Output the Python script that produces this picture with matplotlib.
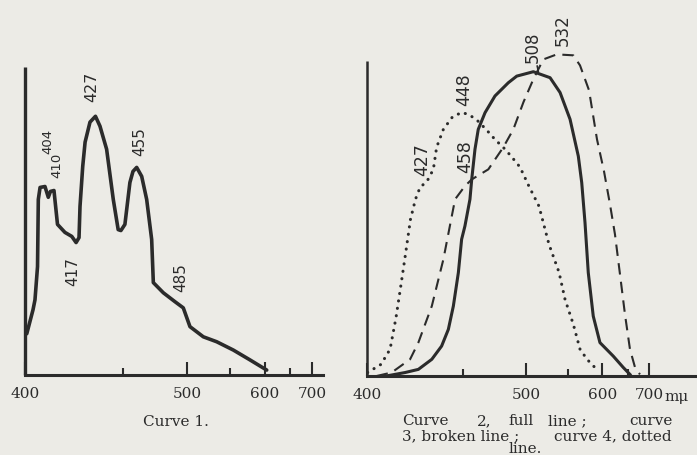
import numpy as np
import matplotlib
matplotlib.use("Agg")
import matplotlib.pyplot as plt
from matplotlib.ticker import FixedLocator, FixedFormatter

# ---------------- data (wavelength in mμ, relative absorption 0-100) ----------------
# prism-type (non-linear) wavelength scale of the original figure
scale_nm = [300, 400, 450, 500, 550, 600, 650, 700, 800, 900]
scale_pos = [-0.8, 0.0, 0.341, 0.564, 0.714, 0.835, 0.925, 1.0, 1.14, 1.26]

major_ticks = [400, 500, 600, 700]
minor_ticks = [450, 550, 650]
tick_labels = ["400", "500", "600", "700"]

# Curve 1
c1_nm = [400.9, 404.1, 405.1, 406.4, 406.8, 407.7, 410.2, 411.9, 413.0, 414.8, 416.6,
         420.4, 423.9, 426.1, 427.6, 428.1, 429.5, 430.7, 433.2, 436.0, 438.3, 441.7,
         445.1, 447.6, 449.0, 451.6, 455.5, 457.9, 460.8, 464.7, 468.6, 472.5, 473.8,
         481.6, 490.7, 497.2, 503.6, 519.1, 534.6, 554.9, 578.9, 604.0]
c1_val = [13.4, 21.2, 24.4, 35.2, 57.0, 60.9, 61.2, 57.7, 59.6, 59.9, 48.9,
          46.3, 45.0, 43.0, 44.6, 54.7, 67.8, 75.6, 82.1, 84.0, 80.8, 73.3,
          57.0, 47.2, 46.9, 48.9, 62.5, 66.1, 67.4, 64.5, 57.0, 44.0, 30.0,
          26.7, 23.8, 21.8, 15.7, 12.4, 10.8, 8.1, 4.9, 1.6]

# Curve 2 (full line)
c2_nm = [410.0, 419.8, 426.7, 433.7, 438.8, 442.3, 444.9, 447.5, 449.2, 451.4, 455.4,
         456.8, 459.4, 462.0, 467.4, 475.3, 485.9, 492.6, 508.6, 528.4, 540.2, 552.5,
         564.6, 569.6, 574.4, 579.2, 586.5, 596.3, 621.3, 641.0, 655.0]
c2_val = [0.0, 1.1, 2.1, 5.3, 9.5, 14.8, 22.2, 32.8, 43.4, 47.6, 56.1,
          62.4, 72.0, 78.3, 83.6, 88.9, 93.1, 95.2, 96.6, 94.7, 90.0, 81.5,
          69.8, 61.4, 48.7, 32.8, 19.0, 10.6, 6.3, 2.7, 0.5]

# Curve 3 (broken line)
c3_nm = [405.0, 412.8, 422.4, 426.7, 433.7, 439.7, 444.1, 445.8, 451.4, 456.8, 470.0,
         481.9, 489.9, 497.9, 508.6, 520.4, 536.3, 557.3, 567.1, 580.3, 592.0, 603.0,
         614.8, 624.6, 634.5, 644.3, 655.0, 666.8, 678.6]
c3_val = [0.0, 1.1, 5.3, 10.6, 22.2, 37.0, 50.8, 56.1, 60.3, 62.4, 65.6,
          72.6, 78.3, 86.9, 94.2, 100.5, 102.1, 101.8, 98.6, 90.7, 75.1, 65.0,
          54.5, 45.0, 32.3, 19.6, 8.5, 2.8, 0.5]

# Curve 4 (dotted line)
c4_nm = [400.3, 407.3, 412.0, 415.1, 417.7, 420.0, 422.6, 425.2, 427.6, 431.2, 434.5,
         436.2, 439.7, 444.5, 449.4, 455.4, 461.8, 468.2, 475.3, 483.3, 488.9, 495.2,
         503.5, 515.3, 527.1, 539.0, 546.1, 557.3, 567.1, 577.4, 586.6, 593.5]
c4_val = [1.1, 3.7, 8.5, 18.6, 29.1, 38.6, 49.7, 56.1, 59.9, 61.8, 65.6,
          72.6, 78.3, 82.3, 83.7, 82.8, 80.9, 78.3, 75.1, 72.0, 69.4, 66.3,
          60.2, 53.9, 41.8, 32.9, 24.3, 16.4, 8.5, 5.3, 3.2, 1.8]

# ---------------- figure ----------------
W, H = 697, 456
paper = "#ecebe6"
ink = "#2b2b2b"

fig = plt.figure(figsize=(W / 100, H / 100), dpi=100, facecolor=paper)


def fwd(x):
    return np.interp(x, scale_nm, scale_pos)


def inv(y):
    return np.interp(y, scale_pos, scale_nm)


def px_axes(x0, x1, ytop, ybot):
    return fig.add_axes([x0 / W, (H - ybot) / H, (x1 - x0) / W, (ybot - ytop) / H])


def style(ax, xmax_frac, lw_left):
    ax.set_facecolor("none")
    ax.set_xscale("function", functions=(fwd, inv))
    ax.set_xlim(400, inv(xmax_frac))
    ax.set_ylim(0, 100)
    for s in ("top", "right"):
        ax.spines[s].set_visible(False)
    ax.spines["left"].set_linewidth(lw_left)
    ax.spines["bottom"].set_linewidth(2.2)
    ax.spines["left"].set_color(ink)
    ax.spines["bottom"].set_color(ink)
    ax.spines["left"].set_capstyle("butt")
    ax.set_yticks([])
    ax.xaxis.set_major_locator(FixedLocator(major_ticks))
    ax.xaxis.set_major_formatter(FixedFormatter(tick_labels))
    ax.xaxis.set_minor_locator(FixedLocator(minor_ticks))
    ax.tick_params(axis="x", which="major", direction="in", length=9.5, width=1.5,
                   color=ink, pad=8, labelsize=11, labelcolor=ink)
    ax.tick_params(axis="x", which="minor", direction="in", length=5, width=1.5,
                   color=ink)
    for lab in ax.get_xticklabels():
        lab.set_family("DejaVu Serif")


# left panel: Curve 1
axL = px_axes(25, 323, 68, 376)
style(axL, 298 / 287, 2.4)
axL.plot(c1_nm, c1_val, color=ink, lw=2.6, solid_joinstyle="round",
         solid_capstyle="round", clip_on=False)

# right panel: Curves 2, 3, 4
axR = px_axes(367, 697, 62, 377)
style(axR, 330 / 282, 1.8)
axR.plot(c2_nm, c2_val, color=ink, lw=2.2, solid_joinstyle="round", clip_on=False)
axR.plot(c3_nm, c3_val, color=ink, lw=1.5, linestyle=(0, (5.5, 3.5)), clip_on=False)
axR.plot(c4_nm, c4_val, color=ink, lw=2.2, linestyle=(0, (0.05, 2.4)),
         dash_capstyle="round", clip_on=False)

# unit after 700
fig.text(664 / W, 1 - 401.5 / H, "mμ", family="DejaVu Serif", fontsize=11,
         color=ink, ha="left", va="baseline")

# hand-written peak labels
hand = dict(rotation=90, ha="center", va="center", color=ink, family="DejaVu Sans")
peak_labels = [
    ("404", 47.5, 141, 9.5), ("410", 57, 165, 9.5), ("427", 92, 87, 11.5),
    ("417", 73, 272, 11), ("455", 140, 142, 11), ("485", 181, 278, 11),
    ("448", 464, 90, 12.5), ("427", 422, 160, 12.5), ("458", 465, 157, 12.5),
    ("532", 563, 30, 12),
]
for txt, x, y, fs in peak_labels:
    fig.text(x / W, 1 - y / H, txt, fontsize=fs, **hand)

i508 = int(np.argmax(c2_val))
axR.annotate("508", xy=(c2_nm[i508] + 6, c2_val[i508]), xytext=(533 / W, 1 - 47 / H),
             textcoords="figure fraction", fontsize=12,
             arrowprops=dict(arrowstyle="-", lw=1.2, color=ink, shrinkA=1, shrinkB=0),
             **hand)

# captions
cap = dict(family="DejaVu Serif", fontsize=11, color=ink, va="baseline")
fig.text(176 / W, 1 - 426.5 / H, "Curve 1.", ha="center", **cap)

line1 = [("Curve", 402, "left"), ("2,", 477, "left"), ("full", 508, "left"),
         ("line ;", 548, "left"), ("curve", 673, "right")]
for word, x, ha in line1:
    fig.text(x / W, 1 - 425 / H, word, ha=ha, **cap)
fig.text(402 / W, 1 - 440 / H, "3, broken line ;", ha="left", **cap)
fig.text(672 / W, 1 - 440 / H, "curve 4, dotted", ha="right", **cap)
fig.text(525 / W, 1 - 453 / H, "line.", ha="center", **cap)

fig.savefig("out.png", dpi=100, facecolor=paper)
